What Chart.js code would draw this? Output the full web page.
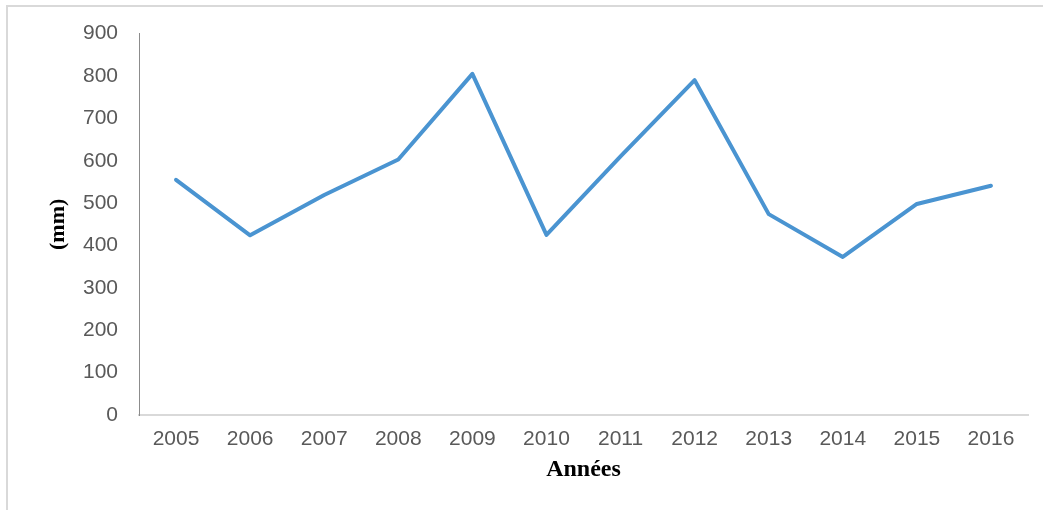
<!DOCTYPE html>
<html>
<head>
<meta charset="utf-8">
<script src="https://cdn.jsdelivr.net/npm/chart.js@4"></script>
<style>
  html, body { margin: 0; padding: 0; background: #fff; }
  #frame { position: absolute; left: 6px; top: 5px; width: 2000px; height: 2000px;
           border-left: 2px solid #d9d9d9; border-top: 2px solid #d9d9d9; }
  #wrap { position: absolute; left: 0; top: 0; width: 1043px; height: 510px; }
</style>
</head>
<body>
<div id="frame"></div>
<div id="wrap"><canvas id="rainChart"></canvas></div>
<script>
// Pluviométrie annuelle (mm)
const years = ['2005', '2006', '2007', '2008', '2009', '2010', '2011', '2012', '2013', '2014', '2015', '2016'];
const rainfall = [555, 424, 519, 603, 805, 425, 610, 790, 474, 373, 498, 541];
const yTicks = [0, 100, 200, 300, 400, 500, 600, 700, 800, 900];

const tickFont = { family: 'Liberation Sans, Arial, sans-serif', size: 21 };
const titleFont = { family: 'Liberation Serif, Times New Roman, serif', size: 22, weight: 'bold' };

new Chart(document.getElementById('rainChart'), {
    type: 'line',
    data: {
        labels: years,
        datasets: [{
            label: 'Précipitations',
            data: rainfall,
            borderColor: '#4A94D1',
            borderWidth: 4,
            borderCapStyle: 'round',
            borderJoinStyle: 'round',
            pointRadius: 0,
            tension: 0,
            fill: false
        }]
    },
    options: {
        responsive: true,
        maintainAspectRatio: false,
        animation: false,
        layout: { padding: { top: 28, right: 15, bottom: 0, left: 0 } },
        plugins: {
            legend: { display: false },
            tooltip: { enabled: false }
        },
        scales: {
            x: {
                offset: true,
                grid: { display: false, drawTicks: false },
                border: { display: true, color: '#d9d9d9', width: 2 },
                ticks: { color: '#595959', font: tickFont, padding: 12, maxRotation: 0 },
                title: { display: true, text: 'Années', color: '#000', font: { ...titleFont, size: 24 }, padding: { top: 0, bottom: 26 } },
                afterFit: (scale) => { scale.height = 95; }
            },
            y: {
                min: 0,
                max: 900,
                afterBuildTicks: (scale) => { scale.ticks = yTicks.map(v => ({ value: v })); },
                grid: { display: false, drawTicks: false },
                border: { display: true, color: '#8c8c8c', width: 1 },
                ticks: { color: '#595959', font: tickFont, padding: 21 },
                title: { display: true, text: '(mm)', color: '#000', font: titleFont, padding: { top: 45, bottom: 0 } },
                afterFit: (scale) => { scale.width = 139; }
            }
        }
    }
});
</script>
</body>
</html>
